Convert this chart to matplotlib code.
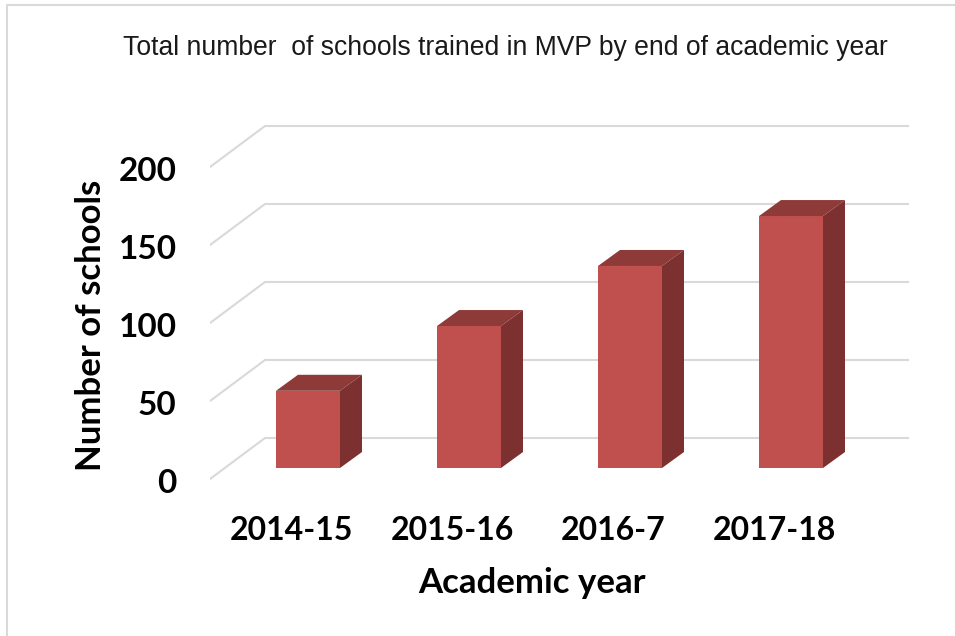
import matplotlib
matplotlib.use("Agg")
import matplotlib.pyplot as plt
from matplotlib.patches import Polygon

years = ["2014-15", "2015-16", "2016-7", "2017-18"]
schools = [49.5, 91, 129.5, 161.5]
y_ticks = [0, 50, 100, 150, 200]

FIG_W, FIG_H = 955, 636
# pixel box of the axes
LEFT, RIGHT, TOP, BOTTOM = 210, 909, 100, 490
# data scale in pixels
PX_PER_CAT = 161.0
PX_PER_SCHOOL = 1.56
FIRST_CAT_PX = 308.0
ZERO_PX = 468.0

BAR_W = 64 / PX_PER_CAT
BAR_DX = 22 / PX_PER_CAT
BAR_DY = 16 / PX_PER_SCHOOL
WALL_DX = 55 / PX_PER_CAT
WALL_DY = 30 / PX_PER_SCHOOL
FLOOR_DY = 11 / PX_PER_SCHOOL
# labels sit a bit off the bars and gridline ends
XLABEL_SHIFT = 17 / PX_PER_CAT
YLABEL_SHIFT = 13 / PX_PER_SCHOOL

FRONT = "#C0504D"
TOP_FACE = "#8E3A38"
SIDE = "#7C3130"
GRID = "#D9D9D9"

fig = plt.figure(figsize=(FIG_W / 100, FIG_H / 100), dpi=100)
ax = fig.add_axes([LEFT / FIG_W, 1 - BOTTOM / FIG_H,
                   (RIGHT - LEFT) / FIG_W, (BOTTOM - TOP) / FIG_H])
x0 = (LEFT - FIRST_CAT_PX) / PX_PER_CAT
x1 = (RIGHT - FIRST_CAT_PX) / PX_PER_CAT
ax.set_xlim(x0, x1)
ax.set_ylim((ZERO_PX - BOTTOM) / PX_PER_SCHOOL, (ZERO_PX - TOP) / PX_PER_SCHOOL)
for s in ax.spines.values():
    s.set_visible(False)

# back wall gridlines and the slanted side wall lines
for t in y_ticks:
    ax.plot([x0, x0 + WALL_DX, x1],
            [t - FLOOR_DY, t + WALL_DY, t + WALL_DY],
            color=GRID, lw=1.5, solid_joinstyle="miter", zorder=1)

for i, v in enumerate(schools):
    l = i - BAR_W / 2
    r = i + BAR_W / 2
    ax.add_patch(Polygon([(l, 0), (r, 0), (r, v), (l, v)], fc=FRONT, ec="none", zorder=3))
    ax.add_patch(Polygon([(l, v), (r, v), (r + BAR_DX, v + BAR_DY), (l + BAR_DX, v + BAR_DY)],
                         fc=TOP_FACE, ec="none", zorder=3))
    ax.add_patch(Polygon([(r, 0), (r + BAR_DX, BAR_DY), (r + BAR_DX, v + BAR_DY), (r, v)],
                         fc=SIDE, ec="none", zorder=3))

label_font = dict(family="Lato", fontweight="bold", color="black")

ax.set_xticks([i - XLABEL_SHIFT for i in range(len(years))])
ax.set_xticklabels(years, fontsize=23, **label_font)
ax.set_yticks([t - YLABEL_SHIFT for t in y_ticks])
ax.set_yticklabels([str(t) for t in y_ticks], fontsize=24, **label_font)
ax.tick_params(axis="both", length=0)
ax.tick_params(axis="x", pad=18.5)
ax.tick_params(axis="y", pad=24)

fig.text(505 / FIG_W, 1 - 48 / FIG_H, "Total number  of schools trained in MVP by end of academic year",
         ha="center", va="center", family="Liberation Sans", fontsize=19.1, color="#1a1a1a")
fig.text(532 / FIG_W, 1 - 583 / FIG_H, "Academic year", ha="center", va="center",
         fontsize=25, **label_font)
fig.text(91 / FIG_W, 1 - 325 / FIG_H, "Number of schools", ha="center", va="center",
         rotation=90, fontsize=25, **label_font)

# picture frame, top and left only
fig.add_artist(plt.Line2D([1, 7 / FIG_W, 7 / FIG_W], [1 - 5 / FIG_H, 1 - 5 / FIG_H, 0],
                          color=GRID, lw=1.5))

fig.savefig("out.png", dpi=100)
